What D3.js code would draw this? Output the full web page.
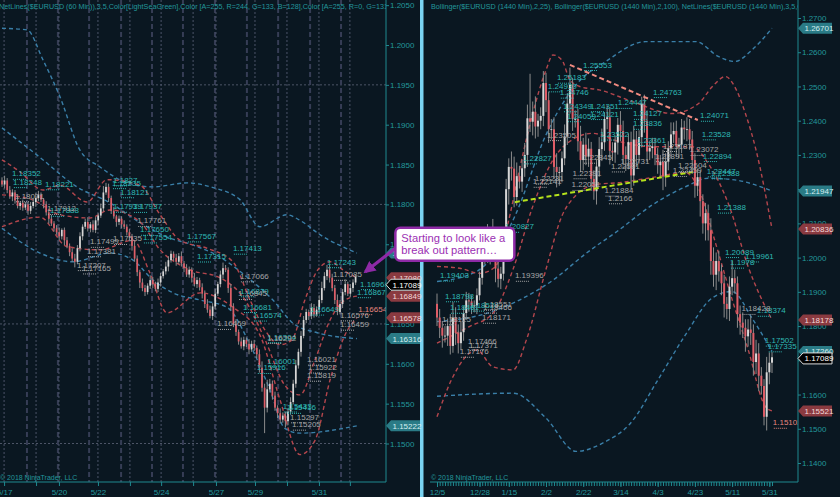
<!DOCTYPE html>
<html><head><meta charset="utf-8">
<script src="https://cdn.jsdelivr.net/npm/d3@7"></script>
<style>
body{margin:0;background:#0a1721;overflow:hidden}
svg{display:block}
text{font-family:"Liberation Sans",Arial,sans-serif}
</style></head>
<body><svg id="chart" width="840" height="497"></svg>
<script>
// ---------------- DATA ----------------
const leftHeader = "NetLines($EURUSD (60 Min)),3,5,Color[LightSeaGreen],Color [A=255, R=244, G=133, B=128],Color [A=255, R=0, G=131";
const rightHeader = "Bollinger($EURUSD (1440 Min),2,25), Bollinger($EURUSD (1440 Min),2,100), NetLines($EURUSD (1440 Min),3,5,Color[LightSeaGreen]";
const copyright = "\u00a9 2018 NinjaTrader, LLC";
const calloutLines = ["Starting to look like a", "break out pattern\u2026"];

// Left panel: EURUSD 60 min (bar index based)
const leftOpen0 = 1.1830;
const leftClose = [
1.1825,1.1830,1.1818,1.1810, 1.1815,1.1805,1.1798,1.1802, 1.1796,1.1800,1.1792,1.1798,1.1803,
1.1808,1.1812,1.1806,1.1800, 1.1790,1.1782,1.1776,1.1770, 1.1765,1.1760,1.1768,1.1755,1.1748,
1.1740,1.1732,1.1728,1.1745, 1.1760,1.1772,1.1778,1.1770, 1.1775,1.1768,1.1780,1.1786,1.1795,
1.1815,1.1822,1.1808,1.1792, 1.1785,1.1778,1.1782,1.1775,1.1772,1.1765, 1.1760,1.1748,
1.1732,1.1715,1.1702,1.1695,1.1690,1.1698, 1.1705,1.1700,1.1694,1.1702,1.1710,1.1716,
1.1722,1.1730,1.1738,1.1733,1.1728,1.1735,1.1726,1.1720, 1.1712,1.1718,1.1708,1.1700,1.1705,1.1696,
1.1688,1.1675,1.1668,1.1660,1.1672, 1.1688,1.1700,1.1712,1.1720,1.1718,
1.1695,1.1672,1.1650,1.1640,1.1628,1.1622, 1.1630,1.1625,1.1618,1.1625,1.1620,1.1612,
1.1595,1.1570,1.1545,1.1568, 1.1575,1.1560, 1.1545,1.1538,1.1530,1.1535,1.1528,1.1540,1.1552,
1.1575,1.1598,1.1615,1.1635,1.1655, 1.1665,1.1660,1.1670,1.1662,1.1668,1.1680,
1.1695,1.1710,1.1718,1.1708,1.1695, 1.1680,1.1665,1.1675, 1.1690,1.1700,1.1688,1.1695,1.1702,1.17089];
// wick lengths in pips
const leftUpWick = [
4,6,3,5,4,3,6,2,4,3, 3,5,4,6,5,3,2,4,3,5, 3,4,6,2,3,4,3,5,6,4, 5,3,4,6,3,5,4,3,6,8,
5,4,3,5,2,4,3,5,3,4, 3,6,4,3,5,4,3,6,4,3, 5,4,3,6,5,4,3,5,4,6, 3,5,4,3,6,4,3,5,4,6,
5,4,6,3,5,7,4,3,5,4, 6,3,5,4,3,6,4,5,3,6, 8,5,12,6,4,5,3,6,4,5, 4,6,5,7,4,6,5,4,3,6,
5,4,6,8,5,6,6,5,4,7, 5,4,6,3,5,4,3];
const leftDnWick = [
3,5,4,3,6,4,3,5,4,3, 5,4,3,6,4,3,5,4,6,3, 4,3,5,4,6,3,5,4,7,3, 4,5,3,4,5,3,4,6,3,4,
3,5,4,3,6,4,5,3,4,5, 6,4,5,7,4,5,3,4,5,3, 4,5,3,4,6,3,4,5,3,4, 5,3,4,6,3,5,4,6,5,4,
3,5,4,3,4,5,3,6,5,4, 5,4,3,5,4,6,3,4,5,6, 5,32,6,4,5,4,6,5,4,8, 5,4,3,5,4,6,3,4,5,4,
4,3,5,4,3,5,6,4,5,4, 3,5,4,3,4,5,3];
const leftYTicks = [1.2050,1.2000,1.1950,1.1900,1.1850,1.1800,1.1750,1.1700,1.1650,1.1600,1.1550,1.1500];
const leftHGrid = [1.1950,1.1800,1.1650,1.1500];
const leftDayTicks = [0.8,13.1,21.9,36.9,49.2,61.2,73.5,82.3,97.3,109.6,121.9,133.8];
const leftDayLabels = ["5/17","","5/20","5/22","","5/24","","5/27","5/29","","5/31",""];
const leftSessionBreaks = [9.6,21.5,33.5,45.8,57.7,69.6,81.9,94.2,106.2,118.5,130.4];
// Bollinger-type bands on left: [bar index, value]
const lUpperRed = [[0,1.1856],[6.9,1.1841],[15.8,1.1818],[22.3,1.1824],[32.7,1.1803],[40.4,1.1831],[53.1,1.1824],[60.8,1.1787],[68.5,1.1755],[78.8,1.1745],[88.8,1.1728],[95.4,1.1680],[101.2,1.1642],[106.9,1.1624],[111.5,1.1630],[116.5,1.1680],[121.5,1.1718],[126.2,1.1728],[131.9,1.1716],[136.5,1.1708]];
const lMidRed = [[0,1.1812],[11.5,1.1806],[22.3,1.1787],[33.8,1.1783],[41.5,1.1793],[53.1,1.1778],[60.8,1.1743],[72.3,1.1718],[83.8,1.1708],[93.5,1.1680],[101.2,1.1630],[108.8,1.1573],[114.6,1.1561],[120.4,1.1605],[126.2,1.1655],[131.9,1.1680],[136.5,1.16849]];
const lLowerRed = [[0,1.1772],[14.6,1.1784],[25,1.1747],[37.7,1.1743],[50.4,1.1755],[56.9,1.1714],[63.5,1.1664],[76.2,1.1689],[88.8,1.1671],[99.2,1.1636],[106.9,1.1555],[114.6,1.1486],[120.4,1.1504],[126.2,1.1580],[131.9,1.1636],[136.5,1.16578]];
const lUpperBlue = [[0,1.2021],[9.6,1.2019],[15.8,1.1981],[22.3,1.1935],[30,1.1868],[37.7,1.1847],[48.1,1.1827],[58.1,1.1822],[71.2,1.1827],[81.2,1.1821],[91.5,1.1806],[99.2,1.1772],[109.6,1.1787],[114.6,1.1780],[122.3,1.1762],[136.5,1.1739]];
const lMidBlue = [[0,1.1896],[14.6,1.1859],[28.8,1.1822],[41.5,1.1802],[53.1,1.1777],[63.5,1.1759],[73.5,1.1749],[83.8,1.1734],[94.2,1.1709],[104.2,1.1680],[111.9,1.1651],[121.2,1.1639],[136.5,1.16316]];
const lLowerBlue = [[0,1.1770],[14.6,1.1739],[27.3,1.1728],[41.5,1.1739],[50.4,1.1730],[58.1,1.1705],[65.8,1.1689],[76.2,1.1680],[86.5,1.1671],[95.4,1.1624],[103.1,1.1567],[108.8,1.1519],[114.6,1.1513],[136.5,1.15222]];
// NetLines labels: [bar index, price text, kind t=teal g=gray s=salmon]
const leftLabels = [
[3.8,"1.18352","t"],[4.2,"1.18248","t"],[16.5,"1.18221","t"],[18.5,"1.17888","t"],[42.7,"1.1827","t"],[42.3,"1.18235","t"],
[45.4,"1.18121","t"],[42.7,"1.17939","t"],[50.4,"1.17937","t"],[53.1,"1.17650","t"],[54.2,"1.17554","t"],[71.2,"1.17567","t"],
[75,"1.17315","t"],[88.8,"1.17413","t"],[91.5,"1.16879","t"],[92.7,"1.16681","t"],[96.5,"1.16574","t"],[102,"1.16304","t"],
[102,"1.16001","t"],[98,"1.15916","t"],[108,"1.15433","t"],[109.6,"1.15416","t"],[125,"1.17243","t"],[118.5,"1.16649","t"],
[137.7,"1.16968","t"],[136.5,"1.16867","t"],
[5,"1.18071","g"],[17.3,"1.17912","g"],[52,"1.17761","g"],[90.8,"1.16845","g"],[91.5,"1.17066","g"],[82.7,"1.16469","g"],
[102,"1.16292","g"],[117.3,"1.16021","g"],[117.7,"1.15922","g"],[117.3,"1.15819","g"],[110.8,"1.15297","g"],[111.5,"1.15205","g"],
[127.3,"1.17085","g"],[130,"1.16576","g"],[130,"1.16459","g"],[30.8,"1.17165","g"],[28.8,"1.17207","g"],[32.7,"1.17381","g"],
[42.7,"1.17535","g"],[33.8,"1.17499","g"],
[137,"1.16654","s"]];
const leftTags = [[1.1739,"1.17390","teal"],[1.1708,"1.17080","red"],[1.16849,"1.16849","red"],[1.16578,"1.16578","red"],[1.16316,"1.16316","teal"],[1.15222,"1.15222","teal"]];
const leftLast = 1.17089;

// Right panel: EURUSD daily, 12/5/2017 .. 6/1/2018
const rightOpen0 = 1.1865;
const rightClose = [
1.1825,1.1795,1.1772,1.1772,1.1800,1.1742,1.1825,1.1780,1.1750,1.1782,1.1838,1.1875,1.1872,1.1860,1.1860,1.1890,1.1941,1.2005,
1.2058,1.2015,1.2068,1.2030,1.1968,1.1938,1.1953,1.2035,1.2200,1.2265,1.2260,1.2177,1.2238,1.2222,1.2261,1.2300,1.2407,1.2397,1.2426,1.2383,1.2400,1.2414,
1.2510,1.2460,1.2375,1.2375,1.2265,1.2250,1.2250,1.2290,1.2354,1.2450,1.2505,1.2405,1.2405,1.2340,1.2285,1.2330,1.2295,1.2318,1.2230,1.2194,
1.2266,1.2317,1.2337,1.2405,1.2410,1.2312,1.2307,1.2336,1.2388,1.2370,1.2300,1.2288,1.2338,1.2240,1.2345,1.2300,1.2352,1.2450,1.2400,1.2310,1.2320,1.2325,
1.2300,1.2270,1.2280,1.2237,1.2280,1.2320,1.2360,1.2370,1.2325,1.2330,1.2380,1.2375,1.2375,1.2345,1.2285,1.2210,1.2235,1.2165,1.2100,1.2130,1.2080,
1.1990,1.1950,1.1990,1.1960,1.1925,1.1865,1.1850,1.1915,1.1940,1.1925,1.1835,1.1810,1.1795,1.1770,1.1790,1.1780,1.1695,1.1720,1.1655,1.1625,1.1535,1.1665,1.1693,
1.17089];
const rightUpWick = [
30,25,20,28,22,35,45,30,25,30,20,25,22,18,15,20,18,20,
30,40,20,45,25,30,20,25,30,25,45,35,40,30,25,35,40,130,30,45,20,25,
35,30,25,30,35,40,15,20,35,30,50,20,25,30,45,20,35,30,20,25,
20,35,40,20,35,30,25,20,20,40,30,25,25,30,40,25,20,20,26,30,20,25,
25,20,20,35,25,20,35,25,30,20,25,20,35,30,25,20,25,20,20,30,25,
35,40,25,30,20,25,20,30,50,25,20,25,30,25,30,40,25,40,30,25,20,45,30,
15];
const rightDnWick = [
25,30,35,20,30,25,20,35,30,20,25,20,30,25,20,25,15,20,
25,30,35,20,40,25,30,20,35,45,35,30,25,20,30,25,35,30,40,35,30,25,
30,35,40,30,35,45,40,30,20,25,30,35,25,30,35,30,25,30,35,25,
39,30,35,25,30,40,25,30,35,30,25,35,30,40,30,35,25,30,35,30,25,30,
30,25,35,40,30,25,30,25,30,35,25,30,35,30,40,35,30,45,30,50,30,
40,35,45,30,35,40,30,35,25,30,40,35,30,45,30,35,40,35,45,25,25,40,35,
30];
const rightYTicks = [1.27,1.26,1.25,1.24,1.23,1.22,1.21,1.20,1.19,1.18,1.17,1.16,1.15,1.14];
const rightTickIdx = [0,16,27,41,55,69,83,97,111,125];
const rightTickLabels = ["12/5","12/28","1/15","2/2","2/22","3/14","4/3","4/23","5/11","5/31"];
const rUpperRed = [[0,1.1974],[8.6,1.1969],[16,1.1954],[22,1.1974],[27,1.2110],[31,1.2256],[36,1.2421],[41,1.2548],[43.6,1.2592],[47,1.2577],[50,1.2519],[54,1.2499],[61,1.2490],[73.5,1.2456],[88.5,1.2421],[98.5,1.2451],[103.5,1.2499],[108.5,1.2529],[112,1.2499],[116,1.2421],[120,1.2314],[126,1.20836]];
const rMidRed = [[0,1.1750],[12,1.1798],[21,1.1837],[28.6,1.1966],[36,1.2149],[43.6,1.2285],[51,1.2345],[58.6,1.2363],[68.5,1.2339],[81,1.2324],[96,1.2324],[102,1.2275],[110,1.2149],[117,1.1974],[126,1.18178]];
const rLowerRed = [[0,1.1535],[6,1.1652],[15,1.1730],[21,1.1681],[28.6,1.1672],[33.6,1.1759],[41,1.1966],[47,1.2122],[52,1.2180],[60,1.2214],[68.5,1.2219],[81,1.2234],[93.5,1.2248],[98.5,1.2200],[104.7,1.2044],[111,1.1878],[117,1.1732],[123.5,1.1565],[126,1.15521]];
const rUpperBlue = [[0,1.1930],[15,1.1960],[24,1.2040],[29.8,1.2130],[41,1.2359],[52.3,1.2505],[63.5,1.2573],[78.5,1.2631],[97.3,1.2631],[106,1.2587],[112,1.2573],[118.5,1.2607],[126,1.26701]];
const rMidBlue = [[0,1.1813],[18.6,1.1837],[31,1.1876],[43.6,1.1934],[56,1.2012],[68.5,1.2081],[81,1.2154],[93.5,1.2207],[102,1.2232],[112,1.2227],[126,1.21947]];
const rLowerBlue = [[0,1.1595],[28.6,1.1604],[41,1.1531],[52.3,1.1434],[63.5,1.1463],[72.3,1.1512],[83.5,1.1648],[93.5,1.1775],[103.5,1.1882],[111,1.1901],[118.5,1.1823],[126,1.1726]];
const resistanceLine = [[50,1.2563],[98.1,1.2402]];
const supportLine = [[29.3,1.2162],[96.2,1.2250]];
const rightLabels = [
[54.9,"1.25553","t"],[45.1,"1.25183","t"],[41.7,"1.24930","t"],[46.2,"1.24746","t"],[81.2,"1.24763","t"],[68,"1.24447","t"],
[47.4,"1.24349","t"],[57.5,"1.24351","t"],[57.5,"1.24121","t"],[48.9,"1.24059","t"],[73.7,"1.24127","t"],[73.7,"1.23836","t"],
[98.9,"1.24071","t"],[99.6,"1.23528","t"],[75.2,"1.23361","t"],[61.3,"1.23522","t"],[100,"1.22894","t"],[101.5,"1.22447","t"],
[103,"1.22388","t"],[32.3,"1.22827","t"],[105.3,"1.21388","t"],[25.6,"1.20827","t"],[108.3,"1.20089","t"],[115.8,"1.19961","t"],
[110.2,"1.1978","t"],[1.1,"1.19403","t"],[3,"1.18798","t"],[4.9,"1.18461","t"],[12.4,"1.18524","t"],[120.3,"1.18374","t"],
[123.3,"1.17502","t"],[124.4,"1.17335","t"],
[41.4,"1.23505","g"],[54.9,"1.22845","g"],[36.8,"1.22231","g"],[36,"1.22141","g"],[51,"1.22391","g"],[50.6,"1.22051","g"],
[63,"1.21884","g"],[64.3,"1.2166","g"],[65.4,"1.22591","g"],[69,"1.22731","g"],[95,"1.23072","g"],[90.6,"1.22604","g"],
[88.7,"1.22459","g"],[82,"1.22891","g"],[85,"1.23187","g"],[29.3,"1.19396","g"],[17.3,"1.18551","g"],[17.3,"1.18466","g"],
[16.9,"1.18171","g"],[1.9,"1.18125","g"],[11.6,"1.17466","g"],[12,"1.17371","g"],[8.6,"1.17176","g"],[114.5,"1.18428","g"],
[126.3,"1.15102","s"]];
const rightTags = [[1.26701,"1.26701","teal"],[1.21947,"1.21947","teal"],[1.20836,"1.20836","red"],[1.18178,"1.18178","red"],[1.1726,"1.17260","teal"],[1.15521,"1.15521","red"]];
const rightLast = 1.17089;

// ---------------- DRAWING ----------------
const BG = "#0a1721", TEAL = "#23989c", AXIS = "#1f8a90";
const RED = "#b4464d", BLUE = "#3a7fa8";
const svg = d3.select("#chart");
svg.append("rect").attr("width", 840).attr("height", 497).attr("fill", BG);
const defs = svg.append("defs");
defs.append("clipPath").attr("id", "clipL").append("rect").attr("x", 0).attr("y", 0).attr("width", 386).attr("height", 482);
defs.append("clipPath").attr("id", "clipR").append("rect").attr("x", 424).attr("y", 0).attr("width", 374).attr("height", 482);
defs.append("marker").attr("id", "arrowHead").attr("viewBox", "0 0 10 10").attr("refX", 8).attr("refY", 5)
  .attr("markerWidth", 12).attr("markerHeight", 12).attr("markerUnits", "userSpaceOnUse").attr("orient", "auto")
  .append("path").attr("d", "M0,0 L10,5 L0,10 Z").attr("fill", "#8e2aa6");

const xL = d3.scaleLinear().domain([0, 137]).range([2, 358.2]);
const yL = d3.scaleLinear().domain([1.2, 1.15]).range([45, 443.5]);
const xR = d3.scaleLinear().domain([0, 126]).range([437, 772]);
const yR = d3.scaleLinear().domain([1.27, 1.14]).range([18, 463]);

function drawBands(g, x, y, bands) {
  const ln = d3.line().x(d => x(d[0])).y(d => y(d[1])).curve(d3.curveMonotoneX);
  bands.forEach(([pts, col]) => {
    g.append("path").attr("d", ln(pts)).attr("fill", "none").attr("stroke", col)
      .attr("stroke-width", 1.4).attr("stroke-dasharray", "4,3");
  });
}
function drawCandles(g, x, y, closes, open0, up, dn, w) {
  const bars = closes.map((c, i) => {
    const o = i ? closes[i - 1] : open0;
    return {i, o, c, h: Math.max(o, c) + up[i] * 1e-4, l: Math.min(o, c) - dn[i] * 1e-4};
  });
  g.selectAll(null).data(bars).join("line")
    .attr("x1", d => x(d.i)).attr("x2", d => x(d.i)).attr("y1", d => y(d.h)).attr("y2", d => y(d.l))
    .attr("stroke", "#8c8c8c").attr("stroke-width", 1);
  g.selectAll(null).data(bars).join("rect")
    .attr("x", d => x(d.i) - w / 2).attr("width", w)
    .attr("y", d => y(Math.max(d.o, d.c)))
    .attr("height", d => Math.max(0.8, Math.abs(y(d.o) - y(d.c))))
    .attr("fill", d => d.c >= d.o ? "#d6d6d6" : "#df5d67");
}
function drawLabels(g, x, y, arr) {
  const cols = {t: "#2fb8b4", g: "#a6a6a6", s: "#e8867f"};
  arr.forEach(([i, t, k]) => {
    const px = x(i), py = y(+t), col = cols[k];
    g.append("text").attr("x", px).attr("y", py).text(t).attr("fill", col).attr("font-size", 8);
    g.append("line").attr("x1", px + 1).attr("x2", px + 14).attr("y1", py + 3).attr("y2", py + 3)
      .attr("stroke", col).attr("stroke-width", 1).attr("stroke-dasharray", "1,1");
  });
}
function drawTag(g, x0, py, txt, kind) {
  const st = {red: ["#8a3a40", "#f4d8d8", "none"], teal: ["#2a7b86", "#d6eef0", "none"], black: ["#000", "#ffffff", "#dcdcdc"]}[kind];
  g.append("path").attr("d", `M${x0},${py} L${x0 + 5},${py - 5.5} L${x0 + 34},${py - 5.5} L${x0 + 34},${py + 5.5} L${x0 + 5},${py + 5.5} Z`)
    .attr("fill", st[0]).attr("stroke", st[2]).attr("stroke-width", 1);
  g.append("text").attr("x", x0 + 6.5).attr("y", py + 3).text(txt).attr("fill", st[1]).attr("font-size", 8);
}
function drawTags(g, x0, y, tags, last) {
  let yb = y(last);
  tags.forEach(([v, t, k]) => {
    const py = y(v);
    drawTag(g, x0, py, t, k);
    if (Math.abs(py - yb) < 7) yb = py + 7;
  });
  drawTag(g, x0, yb, d3.format(".5f")(last), "black");
}
function styleAxis(sel) {
  sel.select(".domain").remove();
  sel.selectAll("line").attr("stroke", AXIS);
  sel.selectAll("text").attr("fill", TEAL).attr("font-size", 8).attr("font-family", "Liberation Sans, Arial, sans-serif");
}

// ---- Left panel ----
const gL = svg.append("g").attr("clip-path", "url(#clipL)");
gL.selectAll(".hg").data(leftHGrid).join("line").attr("class", "hg")
  .attr("x1", 0).attr("x2", 386).attr("y1", d => yL(d)).attr("y2", d => yL(d))
  .attr("stroke", "#4c5466").attr("stroke-width", 1).attr("stroke-dasharray", "2,2");
gL.selectAll(".sb").data(leftSessionBreaks).join("line").attr("class", "sb")
  .attr("x1", d => xL(d)).attr("x2", d => xL(d)).attr("y1", 0).attr("y2", 482)
  .attr("stroke", "#363d55").attr("stroke-width", 2).attr("stroke-dasharray", "5,3");
gL.selectAll(".dt").data(leftDayTicks).join("line").attr("class", "dt")
  .attr("x1", d => xL(d)).attr("x2", d => xL(d)).attr("y1", 0).attr("y2", 482)
  .attr("stroke", "#4c5469").attr("stroke-width", 1).attr("stroke-dasharray", "2,2");
drawBands(gL, xL, yL, [[lUpperBlue, BLUE], [lMidBlue, BLUE], [lLowerBlue, BLUE], [lUpperRed, RED], [lMidRed, RED], [lLowerRed, RED]]);
drawCandles(gL, xL, yL, leftClose, leftOpen0, leftUpWick, leftDnWick, 1.7);
drawLabels(gL, xL, yL, leftLabels);
gL.append("text").attr("x", -1).attr("y", 9).text(leftHeader).attr("fill", TEAL).attr("font-size", 7.2);
gL.append("text").attr("x", 0).attr("y", 480).text(copyright).attr("fill", TEAL).attr("font-size", 7);

// ---- Right panel ----
const gR = svg.append("g").attr("clip-path", "url(#clipR)");
drawBands(gR, xR, yR, [[rUpperBlue, BLUE], [rMidBlue, BLUE], [rLowerBlue, BLUE], [rUpperRed, RED], [rMidRed, RED], [rLowerRed, RED]]);
drawCandles(gR, xR, yR, rightClose, rightOpen0, rightUpWick, rightDnWick, 2);
const tl = d3.line().x(d => xR(d[0])).y(d => yR(d[1]));
gR.append("path").attr("d", tl(resistanceLine)).attr("stroke", "#f08a80").attr("stroke-width", 2).attr("stroke-dasharray", "5,3").attr("fill", "none");
gR.append("path").attr("d", tl(supportLine)).attr("stroke", "#b6e31c").attr("stroke-width", 2).attr("stroke-dasharray", "5,3").attr("fill", "none");
drawLabels(gR, xR, yR, rightLabels);
gR.append("text").attr("x", 431).attr("y", 9).text(rightHeader).attr("fill", TEAL).attr("font-size", 7.2);
gR.append("text").attr("x", 431).attr("y", 480).text(copyright).attr("fill", TEAL).attr("font-size", 7);

// ---- Axes ----
const axG = svg.append("g");
axG.append("line").attr("x1", 386).attr("x2", 386).attr("y1", 0).attr("y2", 482).attr("stroke", AXIS);
axG.append("line").attr("x1", 0).attr("x2", 386).attr("y1", 482).attr("y2", 482).attr("stroke", AXIS);
axG.append("line").attr("x1", 798).attr("x2", 798).attr("y1", 0).attr("y2", 482).attr("stroke", AXIS);
axG.append("line").attr("x1", 430).attr("x2", 798).attr("y1", 482).attr("y2", 482).attr("stroke", AXIS);
axG.append("g").attr("transform", "translate(386,0)")
  .call(d3.axisRight(yL).tickValues(leftYTicks).tickFormat(d3.format(".4f")).tickSize(3).tickPadding(1)).call(styleAxis);
axG.append("g").attr("transform", "translate(798,0)")
  .call(d3.axisRight(yR).tickValues(rightYTicks).tickFormat(d3.format(".4f")).tickSize(3).tickPadding(1)).call(styleAxis);
axG.append("g").attr("transform", "translate(0,482)")
  .call(d3.axisBottom(xL).tickValues(leftDayTicks).tickFormat((d, i) => leftDayLabels[i]).tickSize(4).tickPadding(3)).call(styleAxis);
axG.append("g").attr("transform", "translate(0,482)")
  .call(d3.axisBottom(xR).tickValues(d3.range(rightClose.length)).tickFormat("").tickSize(4)).call(styleAxis);
axG.append("g").attr("transform", "translate(0,482)")
  .call(d3.axisBottom(xR).tickValues(rightTickIdx).tickFormat((d, i) => rightTickLabels[i]).tickSize(5).tickPadding(2)).call(styleAxis);

// separator bar
svg.append("rect").attr("x", 420).attr("y", 0).attr("width", 3.5).attr("height", 497).attr("fill", "#7ad4f2");

// price tags
drawTags(svg.append("g"), 386, yL, leftTags, leftLast);
drawTags(svg.append("g"), 798, yR, rightTags, rightLast);

// ---- Callout annotation ----
const tip = [xL(138.6), yL(1.1713)];
const box = {x: tip[0] + 33, y: tip[1] - 46, w: 119, h: 33};
const cg = svg.append("g");
cg.append("line").attr("x1", box.x + 2).attr("y1", box.y + 19).attr("x2", tip[0] + 3).attr("y2", tip[1] - 2)
  .attr("stroke", "#8e2aa6").attr("stroke-width", 3.2).attr("marker-end", "url(#arrowHead)");
cg.append("rect").attr("x", box.x).attr("y", box.y).attr("width", box.w).attr("height", box.h).attr("rx", 5)
  .attr("fill", "#ffffff").attr("stroke", "#8e2aa6").attr("stroke-width", 2.5);
calloutLines.forEach((t, i) => {
  cg.append("text").attr("x", box.x + 6).attr("y", box.y + 14 + i * 12.5).text(t)
    .attr("fill", "#9b2fb3").attr("font-size", 11.2);
});
</script></body></html>
